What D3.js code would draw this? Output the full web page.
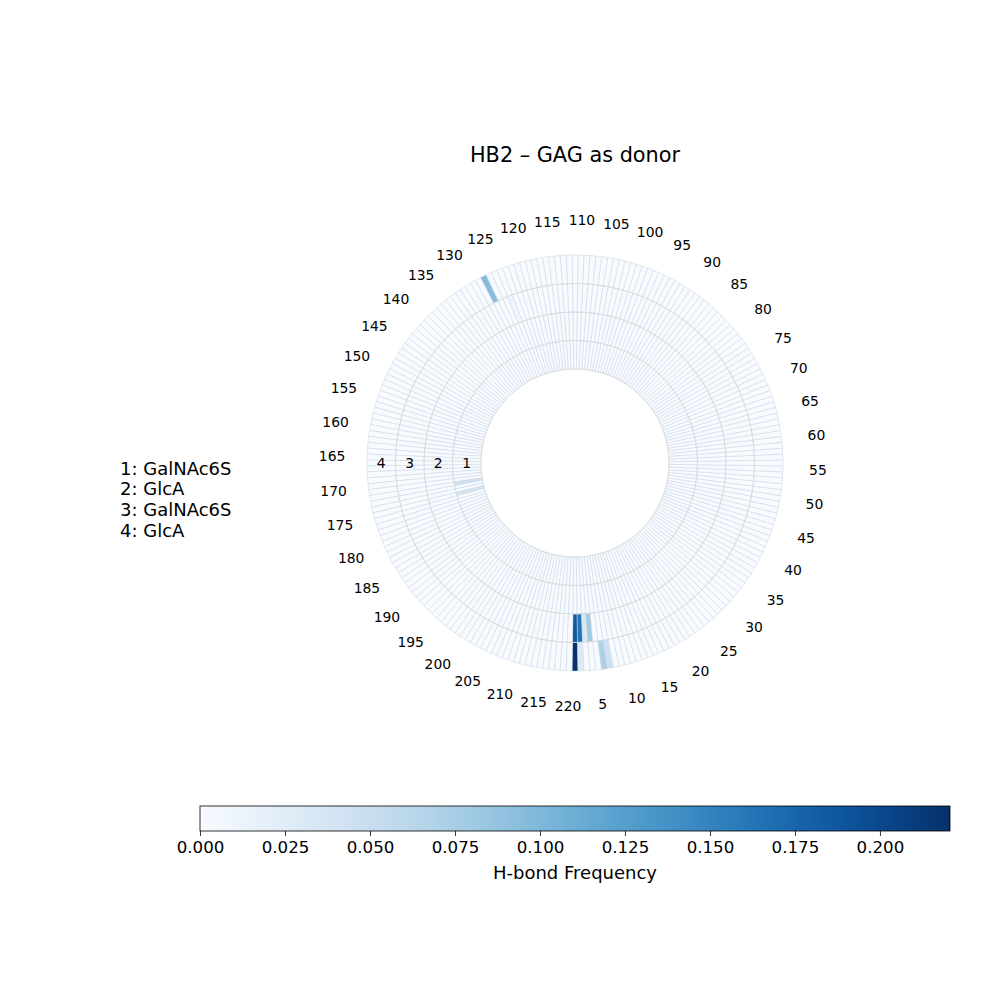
<!DOCTYPE html>
<html>
<head>
<meta charset="utf-8">
<script src="https://cdn.jsdelivr.net/npm/d3@7"></script>
<style>
  body { margin: 0; background: #fff; }
  text { font-family: "DejaVu Sans", sans-serif; }
</style>
</head>
<body>
<script>
// residues around the circle, rings = GAG units
const nResidues = 220;
const residues = d3.range(1, nResidues + 1);
const rings = ["1", "2", "3", "4"];
const ringNames = ["GalNAc6S", "GlcA", "GalNAc6S", "GlcA"];
const tickResidues = d3.range(5, nResidues + 1, 5);

// non-zero frequencies: [ring, residue, frequency]
const hbonds = [
  ["3", 1, 0.187],
  ["3", 2, 0.165],
  ["3", 3, 0.032],
  ["3", 4, 0.080],
  ["4", 1, 0.2206],
  ["4", 2, 0.030],
  ["4", 6, 0.072],
  ["4", 7, 0.045],
  ["4", 127, 0.095],
  ["3", 124, 0.008],
  ["1", 172, 0.045],
  ["1", 175, 0.040]
];
const vmax = 0.2206;
const cbTicks = [0, 0.025, 0.05, 0.075, 0.1, 0.125, 0.15, 0.175, 0.2];

const width = 1000, height = 1000;
const cx = 575, cy = 463;

const svg = d3.select("body").append("svg")
  .attr("width", width)
  .attr("height", height);

const freq = new Map(hbonds.map(d => [d[0] + "-" + d[1], d[2]]));
const cells = [];
rings.forEach(r => residues.forEach(i => cells.push({ ring: r, res: i, v: freq.get(r + "-" + i) || 0 })));

const color = d3.scaleSequential(d3.interpolateBlues).domain([0, vmax]);

// theta measured counterclockwise from the bottom, residue 1 centred at bottom
const theta = d3.scaleLinear().domain([1, nResidues + 1]).range([0, 2 * Math.PI]);
const dth = 2 * Math.PI / nResidues;
const rScale = d3.scaleBand().domain(rings).range([94, 208]).padding(0);

const arc = d3.arc()
  .innerRadius(d => rScale(d.ring))
  .outerRadius(d => rScale(d.ring) + rScale.bandwidth())
  .startAngle(d => Math.PI - theta(d.res) - dth / 2)
  .endAngle(d => Math.PI - theta(d.res) + dth / 2);

const g = svg.append("g").attr("transform", `translate(${cx},${cy})`);

g.selectAll("path.cell")
  .data(cells)
  .enter()
  .append("path")
  .attr("class", "cell")
  .attr("d", arc)
  .attr("fill", d => color(d.v))
  .attr("stroke", "#c9d3de")
  .attr("stroke-width", 0.5);

// ring boundary circles
const bounds = rings.map(r => rScale(r));
g.selectAll("circle.grid")
  .data(bounds)
  .enter()
  .append("circle")
  .attr("class", "grid")
  .attr("r", d => d)
  .attr("fill", "none")
  .attr("stroke", "#dadada")
  .attr("stroke-width", 0.8);

// residue labels
const labelR = 243;
g.selectAll("text.tick")
  .data(tickResidues)
  .enter()
  .append("text")
  .attr("class", "tick")
  .attr("x", d => labelR * Math.sin(Math.PI - theta(d)))
  .attr("y", d => -labelR * Math.cos(Math.PI - theta(d)))
  .attr("text-anchor", "middle")
  .attr("dominant-baseline", "central")
  .attr("font-size", 13.9)
  .text(d => d);

// ring labels on the left
g.selectAll("text.ring")
  .data(rings)
  .enter()
  .append("text")
  .attr("class", "ring")
  .attr("x", d => -(rScale(d) + rScale.bandwidth() / 2))
  .attr("y", 0)
  .attr("text-anchor", "middle")
  .attr("dominant-baseline", "central")
  .attr("font-size", 13.9)
  .text(d => d);

// title
svg.append("text")
  .attr("x", cx)
  .attr("y", 162)
  .attr("text-anchor", "middle")
  .attr("font-size", 20.8)
  .text("HB2 \u2013 GAG as donor");

// legend of ring names
svg.append("g").selectAll("text")
  .data(rings)
  .enter()
  .append("text")
  .attr("x", 120)
  .attr("y", (d, i) => 474.5 + i * 20.7)
  .attr("font-size", 18)
  .text((d, i) => d + ": " + ringNames[i]);

// colorbar
const cbX = 200, cbY = 806, cbW = 750, cbH = 25;
const defs = svg.append("defs");
const grad = defs.append("linearGradient").attr("id", "cbgrad");
d3.range(0, 1.0001, 0.05).forEach(t => {
  grad.append("stop").attr("offset", t).attr("stop-color", d3.interpolateBlues(t));
});
svg.append("rect")
  .attr("x", cbX).attr("y", cbY)
  .attr("width", cbW).attr("height", cbH)
  .attr("fill", "url(#cbgrad)")
  .attr("stroke", "#000")
  .attr("stroke-width", 0.8);

const cbScale = d3.scaleLinear().domain([0, vmax]).range([cbX, cbX + cbW]);
const cbAxis = svg.append("g")
  .attr("transform", `translate(0,${cbY + cbH})`)
  .call(d3.axisBottom(cbScale).tickValues(cbTicks).tickFormat(d3.format(".3f")).tickSize(4.9).tickPadding(4.9));
cbAxis.select(".domain").remove();
cbAxis.selectAll("text").attr("font-size", 16.67).attr("font-family", "DejaVu Sans, sans-serif").attr("fill", "#000");
cbAxis.selectAll("line").attr("stroke", "#000").attr("stroke-width", 0.8);

svg.append("text")
  .attr("x", cbX + cbW / 2)
  .attr("y", 879)
  .attr("text-anchor", "middle")
  .attr("font-size", 18)
  .text("H-bond Frequency");
</script>
</body>
</html>
